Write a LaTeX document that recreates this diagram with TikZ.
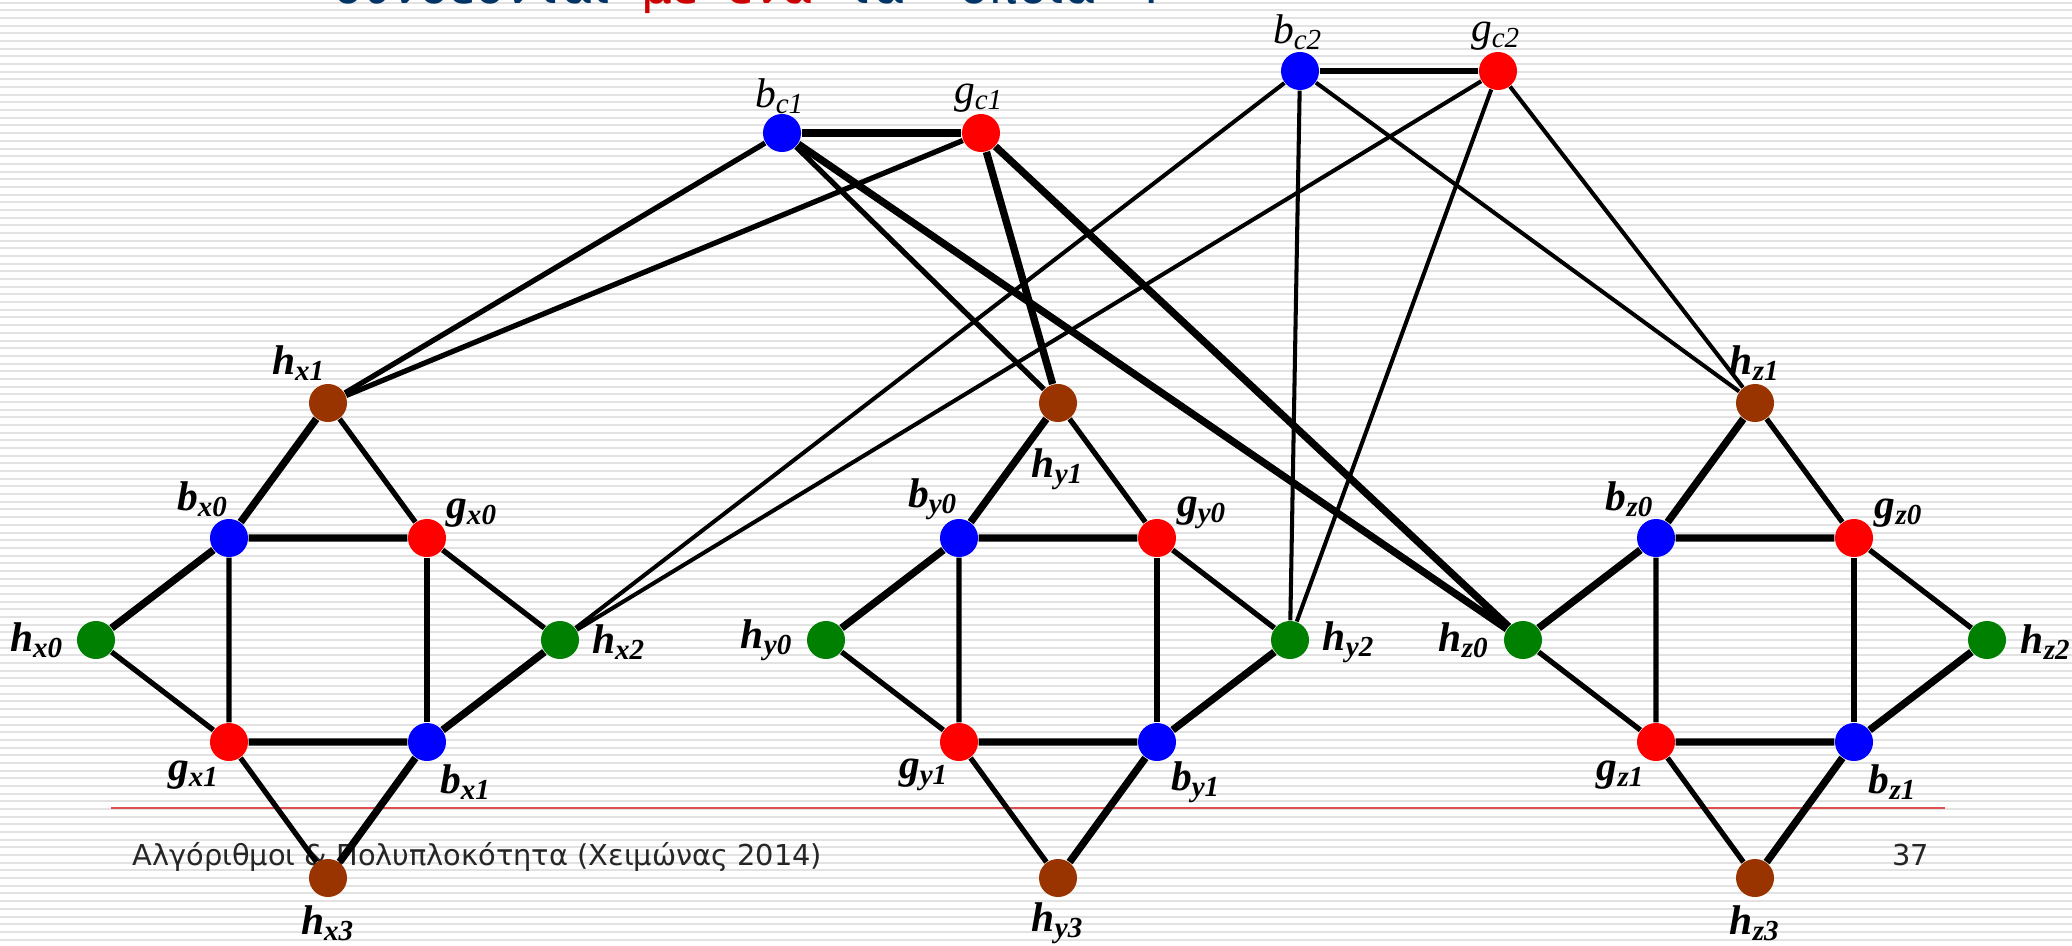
\documentclass[tikz,border=0pt]{standalone}
\usepackage{fontspec}
\setmainfont{Liberation Serif}
\newfontfamily\slidefont{DejaVu Sans}

\definecolor{nodeblue}{RGB}{0,0,255}
\definecolor{nodered}{RGB}{255,0,0}
\definecolor{nodegreen}{RGB}{0,128,0}
\definecolor{nodebrown}{RGB}{153,51,0}
\definecolor{titleblue}{RGB}{0,51,102}
\definecolor{titlered}{RGB}{204,0,0}
\definecolor{stripegray}{RGB}{226,226,226}
\definecolor{rulered}{RGB}{222,80,80}

\newcommand{\vname}[2]{#1\textsubscript{#2}}

\begin{document}
\begin{tikzpicture}[x=0.01cm, y=-0.01cm,
    vtx/.style={circle, inner sep=0pt, minimum size=0.38cm},
    lbl/.style={inner sep=0pt, font=\fontsize{11.8}{12}\selectfont\bfseries\itshape},
    toplbl/.style={inner sep=0pt, font=\fontsize{11.8}{12}\selectfont\itshape},
    thk/.style={line width=2.1pt},
    med/.style={line width=1.5pt},
    thn/.style={line width=1.15pt}]
    \useasboundingbox (0,0) rectangle (2072,945);
    \clip (0,0) rectangle (2072,945);

    % Striped slide background
    \fill[white]
      (0,0) rectangle (2072,945);
    \foreach \k in {0,...,123} {
      \draw[stripegray, line width=0.57pt]
        (0,2.6+7.68*\k) -- (2072,2.6+7.68*\k);
    }

    % Title line, cut off at the top
    \node[anchor=base west, inner sep=0pt, text=titleblue,
          font=\slidefont\fontsize{13.8}{15}\selectfont] (title) at (333,3)
      {συνδέονται\hspace{0.65em}\textcolor{titlered}{με\hspace{0.6em}ένα}\hspace{0.65em}τα\hspace{1.1em}οποία\hspace{1em}Ι};

    % Footer
    \coordinate (ruleL) at (111,808);
    \coordinate (ruleR) at (1945,808);
    \draw[rulered, line width=0.45pt]
      (ruleL) -- (ruleR);
    \node[anchor=base west, inner sep=0pt, text=black!85,
          font=\slidefont\fontsize{8.2}{9}\selectfont] (course) at (132,865)
      {Αλγόριθμοι \& Πολυπλοκότητα (Χειμώνας 2014)};
    \node[anchor=base east, inner sep=0pt, text=black!85,
          font=\slidefont\fontsize{8.2}{9}\selectfont] (page) at (1930,865)
      {37};

    % Variable gadgets
    \foreach \g/\cx/\lx/\ly in {x/328/-29/-40, y/1058/0/66, z/1755/0/-40} {
      \node[vtx, fill=nodebrown, label={[lbl, shift={(\lx,\ly)}]center:\vname{h}{\g1}}]
        (h\g1) at (\cx,403) {};
      \node[vtx, fill=nodeblue, label={[lbl, shift={(-26,-39)}]center:\vname{b}{\g0}}]
        (b\g0) at (\cx-99,538) {};
      \node[vtx, fill=nodered, label={[lbl, shift={(45,-25)}]center:\vname{g}{\g0}}]
        (g\g0) at (\cx+99,538) {};
      \node[vtx, fill=nodegreen, label={[lbl, shift={(-59,0)}]center:\vname{h}{\g0}}]
        (h\g0) at (\cx-232,640) {};
      \node[vtx, fill=nodegreen, label={[lbl, shift={(59,2)}]center:\vname{h}{\g2}}]
        (h\g2) at (\cx+232,640) {};
      \node[vtx, fill=nodered, label={[lbl, shift={(-35,33)}]center:\vname{g}{\g1}}]
        (g\g1) at (\cx-99,742) {};
      \node[vtx, fill=nodeblue, label={[lbl, shift={(39,40)}]center:\vname{b}{\g1}}]
        (b\g1) at (\cx+99,742) {};
      \node[vtx, fill=nodebrown, label={[lbl, shift={(0,45)}]center:\vname{h}{\g3}}]
        (h\g3) at (\cx,878) {};

      \draw[thk]
        (h\g1) -- (b\g0) -- (g\g0);
      \draw[thk]
        (b\g0) -- (h\g0);
      \draw[thk]
        (g\g1) -- (b\g1) -- (h\g2);
      \draw[thk]
        (b\g1) -- (h\g3);
      \draw[med]
        (h\g1) -- (g\g0) -- (h\g2);
      \draw[med]
        (b\g0) -- (g\g1) -- (h\g0);
      \draw[med]
        (g\g0) -- (b\g1);
      \draw[med]
        (g\g1) -- (h\g3);
    }

    % Clause nodes
    \node[vtx, fill=nodeblue, label={[toplbl, shift={(-2,-37)}]center:\vname{b}{\textit{c}1}}]
      (bc1) at (782,133) {};
    \node[vtx, fill=nodered, label={[toplbl, shift={(-2,-35)}]center:\vname{g}{\textit{c}1}}]
      (gc1) at (981,133) {};
    \node[vtx, fill=nodeblue, label={[toplbl, shift={(-2,-39)}]center:\vname{b}{\textit{c}2}}]
      (bc2) at (1300,71) {};
    \node[vtx, fill=nodered, label={[toplbl, shift={(-2,-35)}]center:\vname{g}{\textit{c}2}}]
      (gc2) at (1498,71) {};

    % Links of the first clause
    \draw[thk]
      (bc1) -- (gc1);
    \draw[med]
      (hx1) -- (bc1) -- (hy1);
    \draw[med]
      (hx1) -- (gc1);
    \draw[thk]
      (gc1) -- (hy1);
    \draw[thk]
      (bc1) -- (hz0) -- (gc1);

    % Links of the second clause
    \draw[med]
      (bc2) -- (gc2);
    \foreach \v in {hx2, hy2, hz1} {
      \draw[thn]
        (bc2) -- (\v) -- (gc2);
    }
  \end{tikzpicture}
\end{document}
